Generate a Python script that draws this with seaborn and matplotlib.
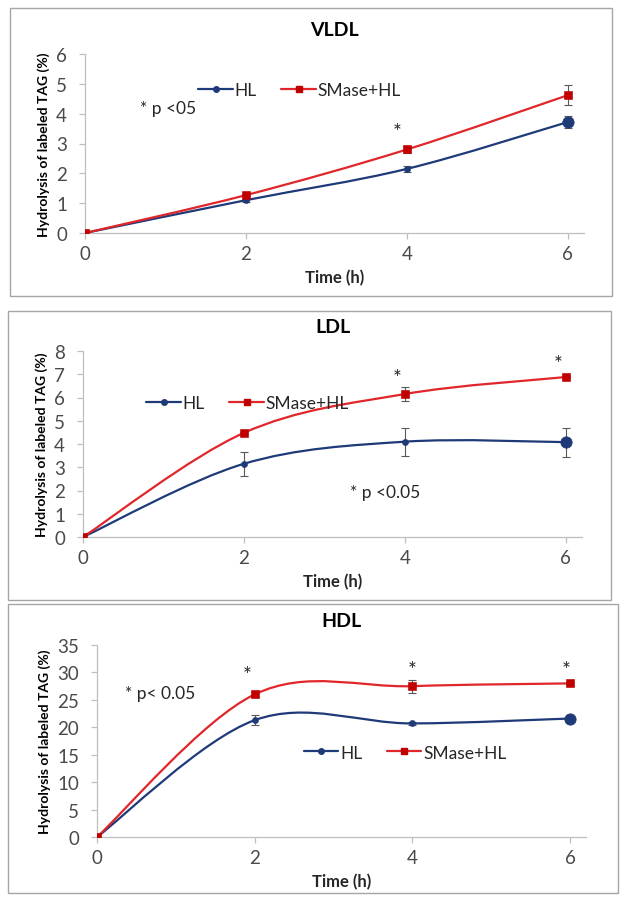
import numpy as np
import matplotlib
matplotlib.use('Agg')
import matplotlib.pyplot as plt
import seaborn as sns
import pandas as pd
from matplotlib.path import Path
from matplotlib.patches import PathPatch, Rectangle
from matplotlib.lines import Line2D

sns.set_style('white')
plt.rcParams['font.family'] = ['Lato', 'DejaVu Sans']

TIME = [0, 2, 4, 6]
SERIES = ['HL', 'SMase+HL']

# VLDL
vldl_hl      = [0, 1.10, 2.15, 3.72]
vldl_hl_err  = [0, 0.05, 0.10, 0.20]
vldl_sm      = [0, 1.27, 2.80, 4.62]
vldl_sm_err  = [0, 0.05, 0.12, 0.33]
# LDL
ldl_hl       = [0, 3.15, 4.10, 4.08]
ldl_hl_err   = [0, 0.52, 0.60, 0.62]
ldl_sm       = [0, 4.48, 6.15, 6.88]
ldl_sm_err   = [0, 0.04, 0.30, 0.05]
# HDL
hdl_hl       = [0, 21.3, 20.7, 21.6]
hdl_hl_err   = [0, 0.9, 0.3, 0.2]
hdl_sm       = [0, 26.0, 27.5, 28.0]
hdl_sm_err   = [0, 0.5, 1.2, 0.3]

BLUE = '#1F3A78'
RED = '#E0262A'
RED_MK = '#C00000'
TXT = '#4A4A4A'


def smooth_path(ax, x, y, color):
    # Excel-style smoothed line: Catmull-Rom as cubic Bezier segments
    x = np.asarray(x, float); y = np.asarray(y, float)
    verts, codes = [(x[0], y[0])], [Path.MOVETO]
    n = len(x)
    for i in range(n - 1):
        p0 = i - 1 if i > 0 else i
        p3 = i + 2 if i + 2 < n else i + 1
        c1 = (x[i] + (x[i+1] - x[p0]) / 6, y[i] + (y[i+1] - y[p0]) / 6)
        c2 = (x[i+1] - (x[p3] - x[i]) / 6, y[i+1] - (y[p3] - y[i]) / 6)
        verts += [c1, c2, (x[i+1], y[i+1])]
        codes += [Path.CURVE4] * 3
    ax.add_patch(PathPatch(Path(verts, codes), fill=False, edgecolor=color,
                           lw=1.6, transform=ax.transData, zorder=3))


def panel(rect, box, title, hl, hl_err, sm, sm_err, ymax, ystep,
          note, note_xy, stars, leg_anchor):
    fig.add_artist(Rectangle((box[0], box[1]), box[2], box[3], transform=fig.transFigure,
                             fill=False, edgecolor='#A6A6A6', lw=1.0))
    ax = fig.add_axes(rect)
    df = pd.DataFrame({'time': TIME * 2, 'val': hl + sm,
                       'series': [SERIES[0]] * 4 + [SERIES[1]] * 4})
    smooth_path(ax, TIME, hl, BLUE)
    smooth_path(ax, TIME, sm, RED)
    ax.errorbar(TIME, hl, yerr=hl_err, fmt='none', ecolor='#595959', elinewidth=0.8,
                capsize=3, capthick=0.8, zorder=2)
    ax.errorbar(TIME, sm, yerr=sm_err, fmt='none', ecolor='#595959', elinewidth=0.8,
                capsize=3, capthick=0.8, zorder=2)
    d = df[df['series'] == 'HL']
    sns.scatterplot(data=d.iloc[:3], x='time', y='val', ax=ax, color=BLUE, marker='o',
                    s=20, edgecolor=BLUE, zorder=4, legend=False)
    sns.scatterplot(data=d.iloc[3:], x='time', y='val', ax=ax, color=BLUE, marker='o',
                    s=65, edgecolor=BLUE, zorder=4, legend=False)
    sns.scatterplot(data=df[df['series'] == 'SMase+HL'], x='time', y='val', ax=ax,
                    color=RED_MK, marker='s', s=28, edgecolor=RED_MK, zorder=5, legend=False)
    ax.set_xlim(0, 6.2)
    ax.set_ylim(0, ymax)
    ax.set_xticks(TIME)
    ax.set_yticks(np.arange(0, ymax + 0.01, ystep))
    ax.set_yticklabels([f'{v:g}' for v in np.arange(0, ymax + 0.01, ystep)])
    for s in ['top', 'right']:
        ax.spines[s].set_visible(False)
    for s in ['left', 'bottom']:
        ax.spines[s].set_color('#BFBFBF')
        ax.spines[s].set_linewidth(0.9)
    ax.tick_params(axis='both', colors='#BFBFBF', labelcolor=TXT, labelsize=13.5,
                   length=4, width=0.9, direction='out', left=True, bottom=True)
    ax.tick_params(axis='x', pad=5)
    ax.tick_params(axis='y', pad=9)
    ax.set_xlabel('Time (h)', fontsize=12, fontweight='bold', color='#262626', labelpad=5)
    ax.set_ylabel('Hydrolysis of labeled TAG (%)', fontsize=10, fontweight='bold',
                  color='black', labelpad=4)
    ax.set_title(title, fontsize=14, fontweight='bold', color='black', pad=14)
    ax.text(note_xy[0], note_xy[1], note, fontsize=12.5, color='#262626', ha='left', va='center')
    for sx, sy in stars:
        ax.text(sx, sy, '*', fontsize=15, color='#262626', ha='center', va='center')
    handles = [Line2D([], [], color=BLUE, marker='o', ms=4, lw=1.6),
               Line2D([], [], color=RED, marker='s', ms=4, mfc=RED_MK, mec=RED_MK, lw=1.6)]
    ax.legend(handles, SERIES, loc='center', bbox_to_anchor=leg_anchor, ncol=2,
              frameon=False, fontsize=12.5, handlelength=2.0, handletextpad=0.1,
              columnspacing=1.4, labelcolor='#262626')
    return ax


W, H = 624, 903
fig = plt.figure(figsize=(W / 100, H / 100), dpi=100)


def fr(x0, y0, x1, y1):
    # pixel box (top-left origin) to figure fraction rect
    return [x0 / W, 1 - y1 / H, (x1 - x0) / W, (y1 - y0) / H]


panel(fr(85, 55, 584, 234), fr(10, 9, 612, 297), 'VLDL',
      vldl_hl, vldl_hl_err, vldl_sm, vldl_sm_err, 6, 1,
      '* p <05', (0.68, 4.2), [(3.88, 3.4)], (0.43, 0.8))
panel(fr(83, 352, 582, 538), fr(8, 312, 611, 601), 'LDL',
      ldl_hl, ldl_hl_err, ldl_sm, ldl_sm_err, 8, 1,
      '* p <0.05', (3.32, 1.95), [(3.9, 6.85), [5.9, 7.45]], (0.33, 0.72))
panel(fr(97, 646, 586, 838), fr(8, 605, 618, 894), 'HDL',
      hdl_hl, hdl_hl_err, hdl_sm, hdl_sm_err, 35, 5,
      '* p< 0.05', (0.35, 26.2), [(1.9, 29.6), (4.0, 30.5), (5.95, 30.5)], (0.63, 0.44))

fig.savefig('out.png', dpi=100)
